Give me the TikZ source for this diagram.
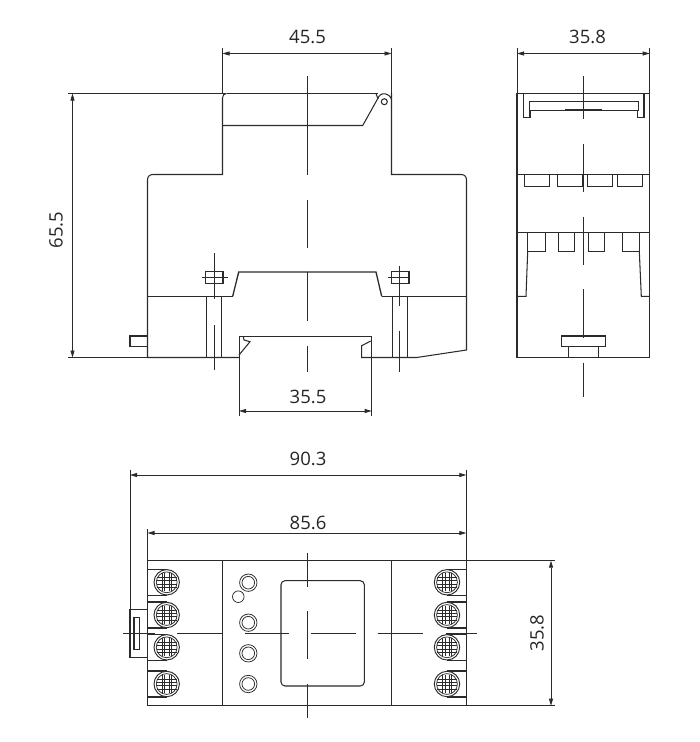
\documentclass[tikz,border=0pt]{standalone}
\usepackage{fontspec}
\setmainfont{Open Sans}
\usetikzlibrary{arrows.meta}
\definecolor{ink}{HTML}{2B2B2B}
\tikzset{
  part/.style={draw=ink,line width=1.05pt,line join=miter},
  heavy/.style={draw=ink,line width=1.5pt},
  fine/.style={draw=ink,line width=0.75pt},
  hair/.style={draw=ink,line width=0.55pt},
  axis/.style={draw=ink,line width=0.95pt},
  dimline/.style={draw=ink,line width=0.8pt,{Stealth[length=7pt,width=4pt,inset=0pt]}-{Stealth[length=7pt,width=4pt,inset=0pt]}},
  extline/.style={draw=ink,line width=0.95pt},
  dimtext/.style={text=black!85,font=\fontsize{18.5}{20}\selectfont,inner sep=0pt}
}
\newcommand{\screwhead}[2]{%
  \draw[fine,line width=0.95pt,fill=white] (#1,#2) circle (12.7pt);
  \draw[fine] (#1,#2) circle (10.4pt);
  \foreach \d in {-4.8,-1.6,1.6,4.8}{
    \draw[hair] (#1-10.2,#2+\d) -- (#1+10.2,#2+\d);
  }
  \foreach \d in {-4.6,-2.2,2.2,4.6}{
    \draw[hair] (#1+\d,#2-9) -- (#1+\d,#2+9);
  }
}
\begin{document}
\begin{tikzpicture}[x=1pt,y=-1pt]
\useasboundingbox[fill=white] (0,0) rectangle (700,742);

%% ---- front view ----
\draw[part] (226.5,93.5) -- (378,93.5);
\draw[part] (226.5,93.5) .. controls (224,93.8) and (222.5,95) .. (222.5,98) -- (222.5,174.5) -- (153,174.5)
  .. controls (149.5,174.5) and (147.5,176.5) .. (147.5,180) -- (147.5,357.5) -- (239,357.5);
\draw[part] (222.5,125.5) -- (362.7,125.5) -- (379.5,95.5);
\draw[part] (379.5,95.5) .. controls (382,92.8) and (388.5,92.5) .. (391.5,99);
\draw[part] (376,93.5) -- (378,99);
\draw[part] (384.3,101.7) circle (3pt);
\draw[part] (391.5,93) -- (391.5,174.5) -- (461,174.5)
  .. controls (464.5,174.5) and (466.5,176.5) .. (466.5,180) -- (466.5,350) -- (416.7,357.5) -- (361.7,357.5) -- (361.7,345.7) -- (370.7,341);
\draw[part] (147.5,296.3) -- (232.7,296.3);
\draw[part] (381.7,296.3) -- (466.5,296.3);
\draw[heavy,line width=1.3pt] (232.7,296.3) -- (238.7,272) -- (376,272) -- (381.7,296.3);
\draw[part] (147.5,336) -- (130,336) -- (130,346.7) -- (147.5,346.7);
\draw[heavy,line width=1.2pt] (205.7,271.7) rectangle (223,283.7);
\draw[heavy,line width=1.2pt] (391.7,271.7) rectangle (409,283.7);
\draw[part] (206.5,296.3) -- (206.5,357.5) (221.5,296.3) -- (221.5,357.5);
\draw[part] (392.5,296.3) -- (392.5,357.5) (407.5,296.3) -- (407.5,357.5);
\draw[fine] (239,336.5) -- (371.7,336.5);
\draw[part] (243.3,336.5) -- (244,340) -- (250,341.7) -- (239,355);
\draw[axis] (214,253.3) -- (214,299.3) (214,325) -- (214,370) (202.3,277.7) -- (227.7,277.7);
\draw[axis] (399.7,265.7) -- (399.7,306) (399.7,330.7) -- (399.7,371.7) (388,277.7) -- (410,277.7);
\draw[axis] (307,76) -- (307,175) (307,200) -- (307,248) (307,271.7) -- (307,320.7) (307,345.7) -- (307,371.7);

%% front-view dimensions
\draw[extline] (222.5,48.3) -- (222.5,93.5);
\draw[extline] (391.5,48.3) -- (391.5,93.5);
\coordinate (a1) at (222.5,53.5); \coordinate (a2) at (391.5,53.5);
\draw[dimline] (a1) -- (a2);
\node[dimtext] (d455) at (307.5,37) {45.5};
\draw[extline] (68,93.5) -- (226,93.5);
\draw[extline] (68,357.5) -- (147.5,357.5);
\coordinate (b1) at (72.5,93.5); \coordinate (b2) at (72.5,357.5);
\draw[dimline] (b1) -- (b2);
\node[dimtext,rotate=90] (d655) at (56,230) {65.5};
\draw[extline] (239,336.5) -- (239,416);
\draw[extline] (371.7,336.5) -- (371.7,416);
\coordinate (c1) at (239,411); \coordinate (c2) at (371.7,411);
\draw[dimline] (c1) -- (c2);
\node[dimtext] (d355) at (308,397) {35.5};

%% ---- side view ----
\draw[extline] (517,48.3) -- (517,93.3);
\draw[extline] (649.7,48.3) -- (649.7,93.3);
\coordinate (e1) at (517,53.5); \coordinate (e2) at (649.7,53.5);
\draw[dimline] (e1) -- (e2);
\node[dimtext] (d358a) at (587.5,37) {35.8};
\draw[part] (517,93.3) rectangle (649.7,357.5);
\draw[part] (517,174.3) -- (649.7,174.3);
\draw[part,line width=1.2pt] (517,232.7) -- (649.7,232.7);
\draw[part,line width=1.2pt] (523.3,93.3) -- (523.3,117.7) -- (530,117.7) -- (530,110.7) -- (637.3,110.7) -- (637.3,117.7) -- (644,117.7) -- (644,93.3);
\draw[part] (529.3,110.7) -- (529.3,101.7) -- (638.3,101.7) -- (638.3,110.7);
\draw[heavy] (565,109.7) -- (602.3,109.7);
\foreach \a/\b in {524.7/549.7,557.7/582.7,587.7/612.7,617.7/642.7}{
  \draw[part] (\a,174.3) -- (\a,186.7) -- (\b,186.7) -- (\b,174.3);
}
\foreach \a/\b in {527.7/545,558.7/574.7,588.7/604.7,622/639.3}{
  \draw[fine] (\a,232.7) -- (\a,251) -- (\b,251) -- (\b,232.7);
}
\draw[part] (527.7,251) -- (526,296.3) -- (517,296.3);
\draw[part] (639.3,251) -- (641.3,296.3) -- (649.7,296.3);
\draw[heavy,line width=1.3pt] (561.3,346.7) -- (561.3,336) -- (605.7,336) -- (605.7,346.7) -- cycle;
\draw[part] (568.7,346.7) -- (568.7,357.5) (598.7,346.7) -- (598.7,357.5);
\draw[axis] (583.7,76) -- (583.7,119.3) (583.7,144) -- (583.7,192.3) (583.7,216.7) -- (583.7,265) (583.7,289.3) -- (583.7,338) (583.7,362.7) -- (583.7,396.7);

%% ---- bottom view ----
\draw[part] (147.5,560.7) -- (555,560.7);
\draw[part] (147.5,705.7) -- (555,705.7);
\draw[part] (147.5,529) -- (147.5,705.7);
\draw[part] (466.3,469.5) -- (466.3,705.7);
\draw[heavy,line width=1.2pt] (222.7,560.7) -- (222.7,705.7);
\draw[part] (391.7,560.7) -- (391.7,705.7);
\draw[extline] (130,469.5) -- (130,609.3);
\draw[part] (130,609.3) rectangle (147.5,657.3);
\draw[part] (134,617.3) rectangle (139.3,649.3);
\draw[part,rounded corners=4pt] (281,580.7) rectangle (364.3,686);
\foreach \y in {582.7,622.7,653.3,684}{
  \draw[fine] (248.3,\y) circle (8.7pt) (248.3,\y) circle (6.3pt);
}
\draw[fine] (238.3,596.7) circle (5.8pt);
\foreach \y in {582.3,615,647.3,684}{
  \draw[part] (147.5,\y-13) -- (166.7,\y-13) (147.5,\y+13) -- (166.7,\y+13);
  \draw[part] (466.3,\y-13) -- (447,\y-13) (466.3,\y+13) -- (447,\y+13);
  \screwhead{166.7}{\y}
  \screwhead{447}{\y}
}
\draw[axis] (123,633) -- (155,633) (177.3,633) -- (222.7,633) (245,633) -- (289,633) (311,633) -- (355.7,633) (377.7,633) -- (422.7,633) (445.7,633) -- (476.7,633);
\draw[heavy] (148,633.5) -- (155,633.5) (446,633.5) -- (466.3,633.5);
\draw[axis] (307,552.7) -- (307,586.7) (307,611) -- (307,659.3) (307,684.3) -- (307,718.3);

%% bottom-view dimensions
\coordinate (f1) at (130,475); \coordinate (f2) at (466.3,475);
\draw[dimline] (f1) -- (f2);
\node[dimtext] (d903) at (308,459) {90.3};
\coordinate (g1) at (147.5,533); \coordinate (g2) at (466.3,533);
\draw[dimline] (g1) -- (g2);
\node[dimtext] (d856) at (308,523) {85.6};
\coordinate (h1) at (551,560.7); \coordinate (h2) at (551,705.7);
\draw[dimline] (h1) -- (h2);
\node[dimtext,rotate=90] (d358b) at (537,633) {35.8};
\end{tikzpicture}
\end{document}
